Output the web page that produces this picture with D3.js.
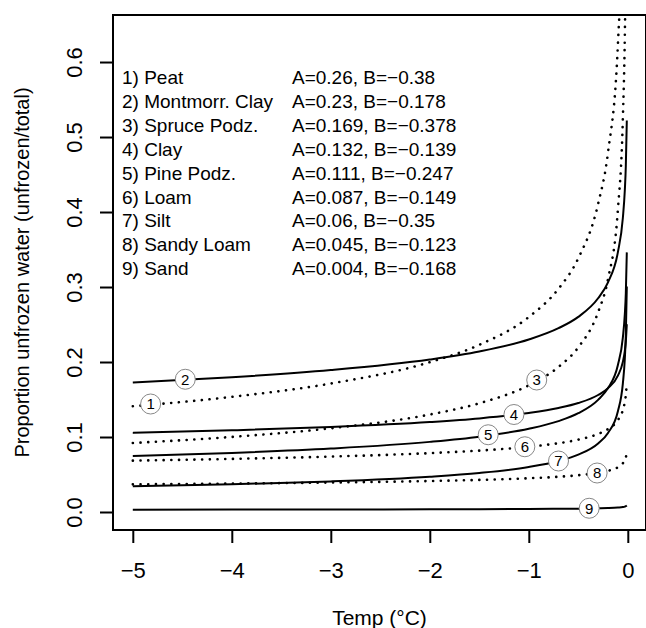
<!DOCTYPE html>
<html>
<head>
<meta charset="utf-8">
<script src="https://cdn.jsdelivr.net/npm/d3@7"></script>
<style>
  body { margin: 0; background: #fff; }
  svg { display: block; }
  text { font-family: "Liberation Sans", Arial, Helvetica, sans-serif; fill: #000; }
</style>
</head>
<body>
<svg id="chart" width="646" height="628"></svg>
<script>
// temperature points (°C) at which the curves were read
var temps = [-5, -4, -3, -2, -1.5, -1, -0.7, -0.5, -0.3, -0.2, -0.1, -0.05, -0.03, -0.02, -0.01];

var soilNames = ["Peat", "Montmorr. Clay", "Spruce Podz.", "Clay", "Pine Podz.", "Loam", "Silt", "Sandy Loam", "Sand"];
var paramA = ["0.26", "0.23", "0.169", "0.132", "0.111", "0.087", "0.06", "0.045", "0.004"];
var paramB = ["\u22120.38", "\u22120.178", "\u22120.378", "\u22120.139", "\u22120.247", "\u22120.149", "\u22120.35", "\u22120.123", "\u22120.168"];
var dotted = [true, false, true, false, false, true, false, true, false];

// unfrozen water proportion per soil, one value per temp
var peat      = [0.141, 0.1535, 0.1713, 0.1998, 0.2229, 0.26, 0.2977, 0.3383, 0.4108, 0.4793, 0.6237, 0.8116, 0.985, 1.150, 1.496];
var montClay  = [0.1727, 0.1797, 0.1892, 0.2033, 0.2140, 0.23, 0.2451, 0.2602, 0.2850, 0.3063, 0.3465, 0.3920, 0.4293, 0.4614, 0.5221];
var spruce    = [0.0920, 0.1001, 0.1116, 0.1300, 0.1450, 0.169, 0.1934, 0.2196, 0.2664, 0.3105, 0.4036, 0.5244, 0.6361, 0.7414, 0.9637];
var clay      = [0.1055, 0.1089, 0.1133, 0.1199, 0.1248, 0.132, 0.1387, 0.1453, 0.1560, 0.1651, 0.1818, 0.2002, 0.2149, 0.2274, 0.2504];
var pine      = [0.0746, 0.0788, 0.0846, 0.0935, 0.1004, 0.111, 0.1212, 0.1317, 0.1495, 0.1652, 0.1960, 0.2326, 0.2639, 0.2917, 0.3462];
var loam      = [0.0685, 0.0708, 0.0739, 0.0785, 0.0819, 0.087, 0.0917, 0.0965, 0.1041, 0.1106, 0.1226, 0.1359, 0.1467, 0.1558, 0.1728];
var silt      = [0.0342, 0.0369, 0.0408, 0.0471, 0.0521, 0.06, 0.0680, 0.0765, 0.0914, 0.1054, 0.1343, 0.1712, 0.2047, 0.2359, 0.3007];
var sandyLoam = [0.0369, 0.0379, 0.0393, 0.0413, 0.0428, 0.045, 0.0470, 0.0490, 0.0522, 0.0549, 0.0597, 0.0650, 0.0693, 0.0728, 0.0793];
var sand      = [0.0031, 0.0032, 0.0033, 0.0036, 0.0037, 0.004, 0.0043, 0.0045, 0.0049, 0.0052, 0.0059, 0.0066, 0.0072, 0.0077, 0.0087];
var series = [peat, montClay, spruce, clay, pine, loam, silt, sandyLoam, sand];

// numbered circle labels sitting on the curves
var labelT = [-4.82, -4.47, -0.92, -1.15, -1.41, -1.04, -0.70, -0.31, -0.39];
var labelV = [0.144, 0.177, 0.176, 0.130, 0.103, 0.087, 0.068, 0.052, 0.005];

var xTicks = [-5, -4, -3, -2, -1, 0];
var yTicks = [0, 0.1, 0.2, 0.3, 0.4, 0.5, 0.6];

var svg = d3.select("#chart"),
    plotL = 113, plotR = 646, plotT = 15, plotB = 530;

var x = d3.scaleLinear().domain([-5.2, 0.2]).range([plotL, 647.6]);
var y = d3.scaleLinear().domain([-0.024, 0.6627]).range([plotB, plotT]);

svg.append("clipPath").attr("id", "plotclip")
    .append("rect")
    .attr("x", plotL).attr("y", plotT)
    .attr("width", plotR - plotL).attr("height", plotB - plotT);

var line = d3.line()
    .x(function (d, i) { return x(temps[i]); })
    .y(function (d) { return y(d); })
    .curve(d3.curveMonotoneX);

var g = svg.append("g").attr("clip-path", "url(#plotclip)");

g.selectAll(".curve")
    .data(series)
    .enter().append("path")
    .attr("class", "curve")
    .attr("d", line)
    .attr("fill", "none")
    .attr("stroke", "#000")
    .attr("stroke-width", function (d, i) { return dotted[i] ? 2.6 : 2; })
    .attr("stroke-linecap", function (d, i) { return dotted[i] ? "round" : "butt"; })
    .attr("stroke-dasharray", function (d, i) { return dotted[i] ? "0.1,7.6" : null; });

// circle labels
var lab = svg.selectAll(".lab")
    .data(labelT)
    .enter().append("g")
    .attr("class", "lab")
    .attr("transform", function (d, i) { return "translate(" + x(d) + "," + y(labelV[i]) + ")"; });

lab.append("circle")
    .attr("r", 10)
    .attr("fill", "#fff")
    .attr("stroke", "#888")
    .attr("stroke-width", 1);

lab.append("text")
    .attr("text-anchor", "middle")
    .attr("dy", "0.36em")
    .style("font-size", "15px")
    .text(function (d, i) { return i + 1; });

// axes
var xAxis = svg.append("g")
    .attr("transform", "translate(0," + plotB + ")")
    .call(d3.axisBottom(x).tickValues(xTicks).tickSize(13).tickPadding(19).tickFormat(d3.format("d")));

var yAxis = svg.append("g")
    .attr("transform", "translate(" + plotL + ",0)")
    .call(d3.axisLeft(y).tickValues(yTicks).tickSize(13).tickFormat(d3.format(".1f")));

[xAxis, yAxis].forEach(function (ax) {
    ax.select(".domain").remove();
    ax.selectAll("line").attr("stroke", "#000").attr("stroke-width", 2);
    ax.selectAll("text").style("font-size", "22px").attr("fill", "#000");
});

yAxis.selectAll("text")
    .attr("x", null).attr("dy", null)
    .attr("text-anchor", "middle")
    .attr("transform", "translate(-31,0) rotate(-90)");

// frame
svg.append("rect")
    .attr("x", plotL).attr("y", plotT)
    .attr("width", plotR - plotL).attr("height", plotB - plotT)
    .attr("fill", "none")
    .attr("stroke", "#000")
    .attr("stroke-width", 2);

// legend text
var leg = svg.append("g");
soilNames.forEach(function (name, i) {
    leg.append("text")
        .attr("x", 122).attr("y", 84 + i * 23.9)
        .style("font-size", "19px")
        .text((i + 1) + ") " + name);
    leg.append("text")
        .attr("x", 292).attr("y", 84 + i * 23.9)
        .style("font-size", "19px")
        .text("A=" + paramA[i] + ", B=" + paramB[i]);
});

// axis titles
svg.append("text")
    .attr("x", (plotL + plotR) / 2)
    .attr("y", 625)
    .attr("text-anchor", "middle")
    .style("font-size", "21px")
    .text("Temp (\u00B0C)");

svg.append("text")
    .attr("transform", "translate(29," + ((plotT + plotB) / 2) + ") rotate(-90)")
    .attr("text-anchor", "middle")
    .style("font-size", "20px")
    .text("Proportion unfrozen water (unfrozen/total)");
</script>
</body>
</html>
